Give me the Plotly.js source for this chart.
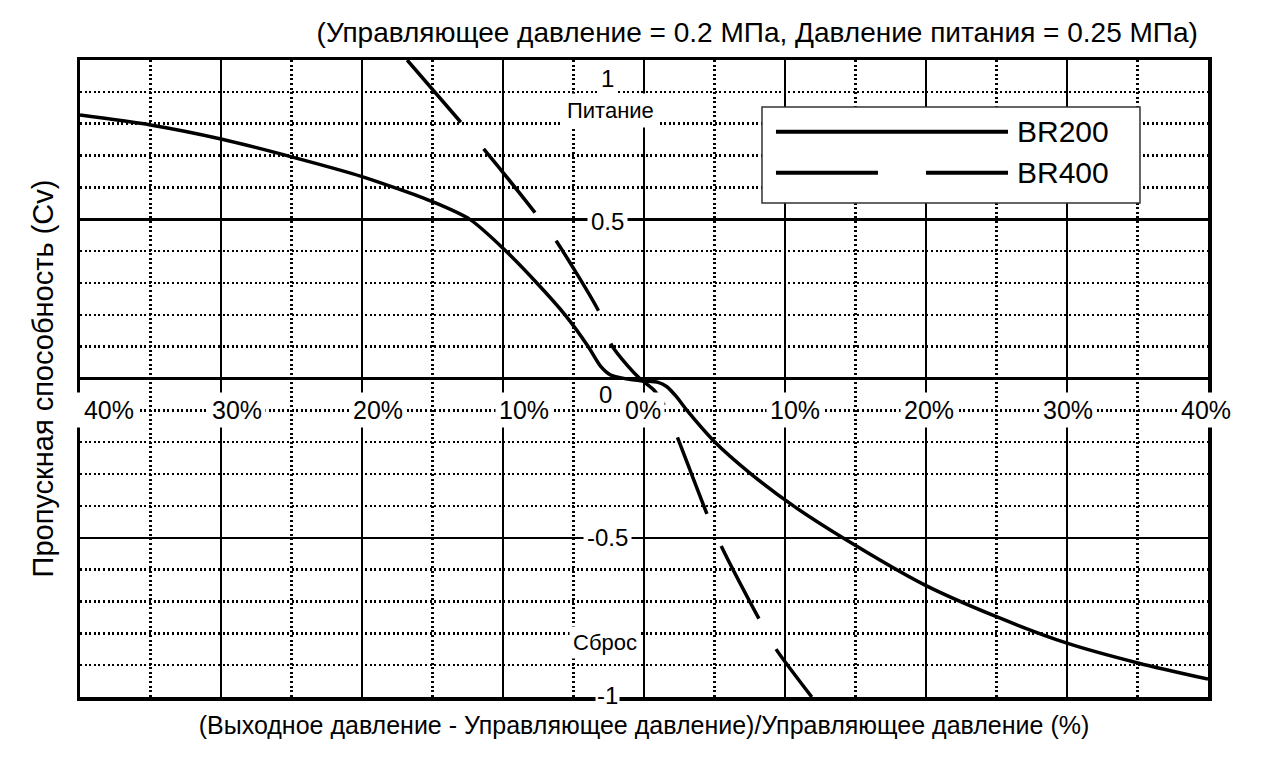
<!DOCTYPE html>
<html>
<head>
<meta charset="utf-8">
<script src="https://cdn.plot.ly/plotly-3.0.1.min.js"></script>
<style>html,body{margin:0;padding:0;background:#fff;}#chart{width:1271px;height:763px;}</style>
</head>
<body>
<div id="chart"></div>
<script>
// ---- data ----
const br200X = [-40, -35, -30, -25, -20, -15, -12.3, -10, -7.6, -5.6, -3.95, -3.1, -2.4, -1.6, -0.8, 0, 1.0, 1.6, 2.3, 3.05, 5.04, 7.6, 10.6, 14.1, 19.9, 25, 30, 35.1, 40];
const br200Y = [0.827, 0.796, 0.752, 0.696, 0.634, 0.555, 0.498, 0.409, 0.3, 0.2, 0.1, 0.04, 0.012, 0.002, -0.004, -0.008, -0.012, -0.025, -0.057, -0.1, -0.2, -0.3, -0.4, -0.5, -0.648, -0.748, -0.831, -0.894, -0.944];

const br400X = [-16.8, -12.9, -11.3, -7.7, -6.2, -3.2, -2.3, -1.2, -0.3, 0.7, 1.5, 2.4, 4.5, 5.5, 8.2, 9.4, 11.9];
const br400Y = [1.0, 0.80, 0.717, 0.519, 0.43, 0.21, 0.105, 0.042, 0.0, -0.036, -0.089, -0.188, -0.429, -0.528, -0.758, -0.852, -1.0];

const seriesNames = ['BR200', 'BR400'];

const xTickVals = [-40, -30, -20, -10, 0, 10, 20, 30, 40];
const xTickText = ['\u00a040%', '30%', '20%', '10%', '0%', '10%', '20%', '30%', '40%'];
const yTickVals = [1, 0.5, 0, -0.5, -1];
const yTickText = ['1', '0.5', '0', '-0.5', '-1'];

const titleText = '(Управляющее давление = 0.2 МПа, Давление питания = 0.25 МПа)';
const xTitleText = '(Выходное давление - Управляющее давление)/Управляющее давление (%)';
const yTitleText = 'Пропускная способность (Cv)';
const supplyText = 'Питание';
const exhaustText = 'Сброс';

// ---- styling / placement ----
const REG = 'Liberation Sans, Arial, sans-serif';
const xLabelShift = [1.8, 1.1, 1.1, 1.5, -0.1, 0.7, 0.2, 0.1, -0.15];
const yLabelShift = [-0.057, -0.008, -0.049, 0, 0.004];
const yLabelX = -2.6;
const xLabelY = -0.1;

const annotations = [];
xTickVals.forEach((v, i) => {
  annotations.push({x: v + xLabelShift[i], y: xLabelY, xref: 'x', yref: 'y', text: xTickText[i],
    showarrow: false, xanchor: 'center', yanchor: 'middle', bgcolor: '#fff', borderpad: 3,
    font: {family: REG, size: 25, color: '#000'}});
});
yTickVals.forEach((v, i) => {
  annotations.push({x: yLabelX - (i === 2 ? 0.1 : 0), y: v + yLabelShift[i], xref: 'x', yref: 'y', text: yTickText[i],
    showarrow: false, xanchor: 'center', yanchor: 'middle', bgcolor: (i === 2 ? 'rgba(0,0,0,0)' : '#fff'), borderpad: (i === 4 ? 1 : 3),
    font: {family: REG, size: 24, color: '#000'}});
});
annotations.push({x: -2.4, y: 0.843, xref: 'x', yref: 'y', text: supplyText, showarrow: false,
  xanchor: 'center', yanchor: 'middle', bgcolor: '#fff', borderpad: 4, font: {family: REG, size: 22, color: '#000'}});
annotations.push({x: -2.77, y: -0.83, xref: 'x', yref: 'y', text: exhaustText, showarrow: false,
  xanchor: 'center', yanchor: 'middle', bgcolor: '#fff', borderpad: 3, font: {family: REG, size: 22, color: '#000'}});

// manual legend (paper coords)
const lg = {x0: 0.6046, x1: 0.9397, y0: 0.7755, y1: 0.9262, lx0: 0.617, lx1: 0.8227, gapA: 0.7074, gapB: 0.75, y200: 0.8874, y400: 0.8231, tx: 0.8285};
const shapes = [
  {type: 'rect', xref: 'paper', yref: 'paper', x0: lg.x0, x1: lg.x1, y0: lg.y0, y1: lg.y1, fillcolor: '#fff', line: {color: '#333', width: 1.5}, layer: 'above'},
  {type: 'line', xref: 'paper', yref: 'paper', x0: lg.lx0, x1: lg.lx1, y0: lg.y200, y1: lg.y200, line: {color: '#000', width: 4}, layer: 'above'},
  {type: 'line', xref: 'paper', yref: 'paper', x0: lg.lx0, x1: lg.gapA, y0: lg.y400, y1: lg.y400, line: {color: '#000', width: 4}, layer: 'above'},
  {type: 'line', xref: 'paper', yref: 'paper', x0: lg.gapB, x1: lg.lx1, y0: lg.y400, y1: lg.y400, line: {color: '#000', width: 4}, layer: 'above'}
];
annotations.push({x: lg.tx, y: lg.y200, xref: 'paper', yref: 'paper', text: seriesNames[0], showarrow: false,
  xanchor: 'left', yanchor: 'middle', font: {family: REG, size: 30, color: '#000'}});
annotations.push({x: lg.tx, y: lg.y400, xref: 'paper', yref: 'paper', text: seriesNames[1], showarrow: false,
  xanchor: 'left', yanchor: 'middle', font: {family: REG, size: 30, color: '#000'}});

const traces = [
  {x: br200X, y: br200Y, name: seriesNames[0], type: 'scatter', mode: 'lines',
   line: {color: '#000', width: 3.5, shape: 'spline', smoothing: 0.7}, showlegend: false, hoverinfo: 'skip'},
  {x: br400X, y: br400Y, name: seriesNames[1], type: 'scatter', mode: 'lines',
   line: {color: '#000', width: 3.5, dash: '82px,35px', shape: 'spline', smoothing: 0.6}, showlegend: false, hoverinfo: 'skip'}
];

const gridDot = '2px,2.6px';
const layout = {
  width: 1271, height: 763,
  margin: {l: 80, r: 63, t: 60, b: 66},
  paper_bgcolor: '#fff', plot_bgcolor: '#fff',
  showlegend: false,
  title: {text: titleText, xref: 'paper', x: 0.991, xanchor: 'right', yref: 'container', y: 0.958, yanchor: 'middle',
          font: {family: REG, size: 28, color: '#000'}},
  xaxis: {range: [-40, 40], tick0: 0, dtick: 10, showticklabels: false, ticks: '',
          showgrid: true, gridcolor: '#000', gridwidth: 2.5,
          zeroline: true, zerolinecolor: '#000', zerolinewidth: 2.5,
          showline: true, mirror: true, linecolor: '#000', linewidth: 3.5,
          minor: {dtick: 5, tick0: 0, showgrid: true, gridcolor: '#000', gridwidth: 2.5, griddash: gridDot, ticks: ''},
          title: {text: xTitleText + '\u2003\u2003\u2002', standoff: 18, font: {family: REG, size: 25, color: '#000'}},
          fixedrange: true},
  yaxis: {range: [-1, 1], tick0: 0, dtick: 0.5, showticklabels: false, ticks: '',
          showgrid: true, gridcolor: '#000', gridwidth: 2.5,
          zeroline: true, zerolinecolor: '#000', zerolinewidth: 2.5,
          showline: true, mirror: true, linecolor: '#000', linewidth: 3.5,
          minor: {dtick: 0.1, tick0: 0, showgrid: true, gridcolor: '#000', gridwidth: 2.5, griddash: gridDot, ticks: ''},
          title: {text: '\u2002' + yTitleText, standoff: 15, font: {family: REG, size: 29, color: '#000'}},
          fixedrange: true},
  annotations: annotations,
  shapes: shapes
};

Plotly.newPlot('chart', traces, layout, {staticPlot: true, displayModeBar: false});
</script>
</body>
</html>
